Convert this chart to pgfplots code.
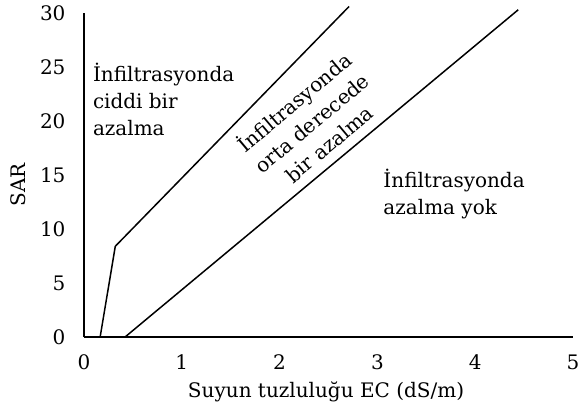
\documentclass[border=0pt]{standalone}
\usepackage{pgfplots}
\pgfplotsset{compat=1.18}
\usepackage{fontspec}
\setmainfont{DejaVu Serif}
\begin{document}
\begin{tikzpicture}
\useasboundingbox (-84pt,-73pt) rectangle (496pt,337pt);
\begin{axis}[
  at={(0pt,0pt)}, anchor=south west,
  scale only axis, width=489pt, height=324pt,
  xmin=0, xmax=5, ymin=0, ymax=30,
  axis lines=left,
  axis line style={-, line width=1.5pt, black},
  xtick={0,1,2,3,4,5}, ytick={0,5,10,15,20,25,30},
  major tick length=0pt,
  /pgf/number format/assume math mode=true,
  tick label style={font=\fontsize{20}{24}\selectfont, black},
  xticklabel style={yshift=-14pt},
  yticklabel style={xshift=-15pt},
  every axis x label/.style={at={(axis description cs:0.495,0)}, anchor=center, yshift=-55pt},
  every axis y label/.style={at={(axis description cs:-0.135,0.47)}, rotate=90, anchor=center},
  label style={font=\fontsize{20}{24}\selectfont},
  xlabel={Suyun tuzluluğu EC (dS/m)},
  ylabel={SAR},
  clip=false,
]
\addplot[black, line width=1.5pt] coordinates {(0.165,0) (0.32,8.4) (2.71,30.6)};
\addplot[black, line width=1.5pt] coordinates {(0.42,0) (4.44,30.3)};
\node[anchor=north west, inner sep=0pt, align=left, font=\fontsize{20}{27}\selectfont] at (axis cs:0.09,25.4) {İnfiltrasyonda\\ciddi bir\\azalma};
\node[anchor=center, inner sep=0pt, align=center, rotate=40, font=\fontsize{20}{27}\selectfont] at (axis cs:2.32,19.9) {İnfiltrasyonda\\orta derecede\\bir azalma};
\node[anchor=north west, inner sep=0pt, align=left, font=\fontsize{20}{27}\selectfont] at (axis cs:3.06,15.6) {İnfiltrasyonda\\azalma yok};
\end{axis}
\end{tikzpicture}
\end{document}
